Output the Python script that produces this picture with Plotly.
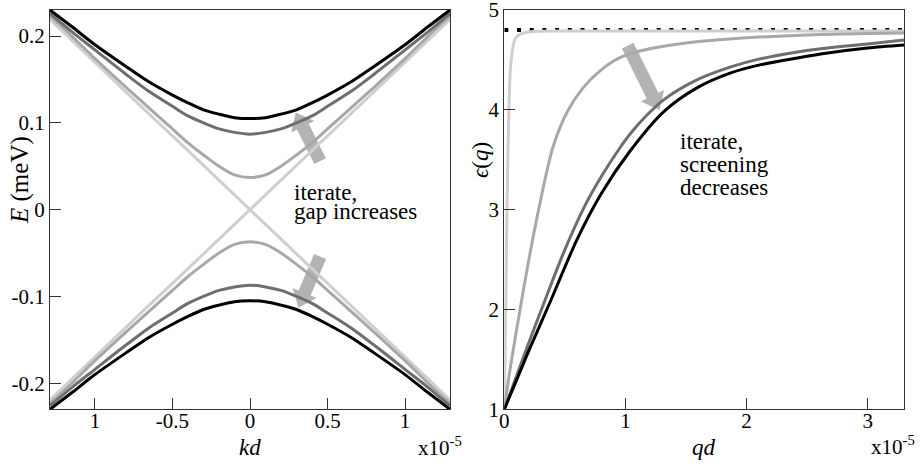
import plotly.graph_objects as go

# ---------------- data ----------------
# Left panel: quasiparticle bands, kd in units of 1e-5, E in meV (upper branch)
kd = [-1.29, -1.15, -1.0, -0.8, -0.65, -0.5, -0.4, -0.3, -0.2, -0.1, 0.0,
      0.1, 0.2, 0.3, 0.4, 0.5, 0.65, 0.8, 1.0, 1.15, 1.29]
E_iter0 = [0.219, 0.195, 0.170, 0.136, 0.110, 0.085, 0.068, 0.051, 0.034, 0.017, 0.0,
           0.017, 0.034, 0.051, 0.068, 0.085, 0.110, 0.136, 0.170, 0.195, 0.219]
E_iter1 = [0.223, 0.200, 0.174, 0.141, 0.117, 0.093, 0.077, 0.063, 0.050, 0.040, 0.037,
           0.040, 0.050, 0.063, 0.077, 0.093, 0.117, 0.141, 0.174, 0.200, 0.223]
E_iter2 = [0.226, 0.205, 0.184, 0.156, 0.136, 0.119, 0.108, 0.100, 0.093, 0.089, 0.087,
           0.089, 0.093, 0.100, 0.108, 0.119, 0.136, 0.156, 0.184, 0.205, 0.226]
E_iter3 = [0.230, 0.211, 0.190, 0.165, 0.147, 0.132, 0.123, 0.115, 0.110, 0.106, 0.105,
           0.106, 0.110, 0.115, 0.123, 0.132, 0.147, 0.165, 0.190, 0.211, 0.230]

# Right panel: dielectric function, qd in units of 1e-5
q_iter0 = [0.0, 0.01, 0.02, 0.03, 0.04, 0.05, 0.061, 0.075, 0.089, 0.12, 0.16, 0.24, 0.6, 3.3]
eps_iter0 = [1.0, 1.9, 2.8, 3.55, 4.1, 4.4, 4.54, 4.65, 4.71, 4.75, 4.77, 4.785, 4.79, 4.79]
q_iter1 = [0.0, 0.05, 0.13, 0.2, 0.28, 0.4, 0.52, 0.65, 0.8, 0.95, 1.12, 1.5, 1.86, 2.5, 3.3]
eps_iter1 = [1.0, 1.42, 2.0, 2.48, 2.98, 3.62, 3.98, 4.22, 4.40, 4.52, 4.59, 4.67, 4.71, 4.75, 4.77]
q_iter2 = [0.0, 0.1, 0.2, 0.31, 0.49, 0.67, 0.8, 0.955, 1.04, 1.18, 1.315, 1.59, 1.87,
           2.11, 2.42, 2.67, 3.0, 3.3]
eps_iter2 = [1.0, 1.33, 1.66, 2.01, 2.57, 3.05, 3.33, 3.62, 3.76, 3.95, 4.10, 4.30, 4.43,
             4.51, 4.58, 4.62, 4.66, 4.70]
q_iter3 = [0.0, 0.1, 0.2, 0.38, 0.6, 0.8, 1.04, 1.315, 1.59, 1.87, 2.11, 2.42, 2.67, 3.0, 3.3]
eps_iter3 = [1.0, 1.29, 1.58, 2.08, 2.70, 3.16, 3.59, 3.98, 4.22, 4.37, 4.45, 4.52, 4.57,
             4.62, 4.65]
eps_inf = 4.8

x_ticks_left = [-1, -0.5, 0, 0.5, 1]
x_ticktext_left = ["1", "-0.5", "0", "0.5", "1"]
y_ticks_left = [-0.2, -0.1, 0, 0.1, 0.2]
y_ticktext_left = ["-0.2", "-0.1", "0", "0.1", "0.2"]
x_ticks_right = [0, 1, 2, 3]
y_ticks_right = [1, 2, 3, 4, 5]

# ---------------- layout geometry ----------------
W, H = 922, 467
LX = (50.0, 450.0)
RX = (504.3, 904.0)
YPX = (10.0, 409.3)       # top, bottom
XR_L, YR_L = (-1.29, 1.29), (-0.23, 0.23)
XR_R, YR_R = (0.0, 3.3), (1.0, 5.0)

FONT = "Liberation Serif"
GREYS = ["#cfcfcf", "#a8a8a8", "#6e6e6e", "#000000"]
LW = 3.0
AXC = "#333333"


def to_px(x, y, xr, yr, xpx):
    px = xpx[0] + (x - xr[0]) / (xr[1] - xr[0]) * (xpx[1] - xpx[0])
    py = YPX[1] - (y - yr[0]) / (yr[1] - yr[0]) * (YPX[1] - YPX[0])
    return px, py


def to_data(px, py, xr, yr, xpx):
    x = xr[0] + (px - xpx[0]) / (xpx[1] - xpx[0]) * (xr[1] - xr[0])
    y = yr[0] + (YPX[1] - py) / (YPX[1] - YPX[0]) * (yr[1] - yr[0])
    return x, y


def arrow_path(tail, tip, xr, yr, xpx, half_shaft=6.5, half_head=13.0, head_len=16.0):
    tx, ty = to_px(*tail, xr, yr, xpx)
    hx, hy = to_px(*tip, xr, yr, xpx)
    dx, dy = hx - tx, hy - ty
    n = (dx * dx + dy * dy) ** 0.5
    ux, uy = dx / n, dy / n
    nx, ny = -uy, ux
    bx, by = hx - ux * head_len, hy - uy * head_len
    pts = [
        (tx + nx * half_shaft, ty + ny * half_shaft),
        (bx + nx * half_shaft, by + ny * half_shaft),
        (bx + nx * half_head, by + ny * half_head),
        (hx, hy),
        (bx - nx * half_head, by - ny * half_head),
        (bx - nx * half_shaft, by - ny * half_shaft),
        (tx - nx * half_shaft, ty - ny * half_shaft),
    ]
    d = [to_data(px, py, xr, yr, xpx) for px, py in pts]
    return "M " + " L ".join(f"{x:.6f},{y:.6f}" for x, y in d) + " Z"


fig = go.Figure()

# ---- left panel: bands, lightest (first iteration) underneath
for E, c in zip([E_iter0, E_iter1, E_iter2, E_iter3], GREYS):
    shape = "linear" if E is E_iter0 else "spline"
    for sign in (1, -1):
        fig.add_trace(go.Scatter(
            x=kd, y=[sign * e for e in E], mode="lines",
            line=dict(color=c, width=LW, shape=shape, smoothing=0.8),
            xaxis="x", yaxis="y", showlegend=False, hoverinfo="skip"))

# ---- right panel: dielectric function
fig.add_trace(go.Scatter(
    x=[XR_R[0], XR_R[1]], y=[eps_inf, eps_inf], mode="lines",
    line=dict(color="black", width=4, dash="4px,8.7px"),
    xaxis="x2", yaxis="y2", showlegend=False, hoverinfo="skip"))
for q, eps, c in zip([q_iter0, q_iter1, q_iter2, q_iter3],
                     [eps_iter0, eps_iter1, eps_iter2, eps_iter3], GREYS):
    fig.add_trace(go.Scatter(
        x=q, y=eps, mode="lines",
        line=dict(color=c, width=LW, shape="spline", smoothing=0.8),
        xaxis="x2", yaxis="y2", showlegend=False, hoverinfo="skip"))

# ---- iteration arrows
ARROW_C = "#b3b3b3"
shapes = [
    dict(type="path", xref="x", yref="y", layer="below", line=dict(width=0),
         fillcolor=ARROW_C,
         path=arrow_path((0.452, 0.0558), (0.295, 0.112), XR_L, YR_L, LX)),
    dict(type="path", xref="x", yref="y", layer="below", line=dict(width=0),
         fillcolor=ARROW_C,
         path=arrow_path((0.452, -0.054), (0.312, -0.113), XR_L, YR_L, LX)),
    dict(type="path", xref="x2", yref="y2", layer="below", line=dict(width=0),
         fillcolor=ARROW_C,
         path=arrow_path((1.019, 4.643), (1.282, 3.998), XR_R, YR_R, RX)),
]

tickfont = dict(family=FONT, size=21, color="black")
axis_common = dict(showline=True, mirror=True, linecolor=AXC, linewidth=1.3,
                   ticks="inside", ticklen=11, tickwidth=1.3, tickcolor=AXC,
                   showgrid=False, zeroline=False, tickfont=tickfont,
                   automargin=False, ticklabeloverflow="allow", fixedrange=True)

dom_y = [1 - YPX[1] / H, 1 - YPX[0] / H]


def txt(text, x, y, size=22, xanchor="left", yanchor="middle", angle=0):
    return dict(text=text, x=x / W, y=1 - y / H, xref="paper", yref="paper",
                showarrow=False, xanchor=xanchor, yanchor=yanchor, textangle=angle,
                font=dict(family=FONT, size=size, color="black"))


annotations = [
    # axis titles
    txt("<i>E</i> (meV)", 20, 180, size=25, xanchor="center", angle=-90),
    txt("<i>kd</i>", 250, 447, size=23, xanchor="center"),
    txt("x10<sup>-5</sup>", 416, 446, size=21),
    txt("<i>ϵ</i>(<i>q</i>)", 481, 160, size=23, xanchor="center", angle=-90),
    txt("<i>qd</i>", 704, 447, size=23, xanchor="center"),
    txt("x10<sup>-5</sup>", 869, 445, size=21),
]
# panel notes
for i, line in enumerate(["iterate,", "gap increases"]):
    annotations.append(txt(line, 292, 192 + 19.5 * i, size=23))
for i, line in enumerate(["iterate,", "screening", "decreases"]):
    annotations.append(txt(line, 678, 141 + 23 * i, size=23))

fig.update_layout(
    template="none",
    width=W, height=H, autosize=False,
    margin=dict(l=0, r=0, t=0, b=0, pad=0),
    paper_bgcolor="white", plot_bgcolor="white",
    xaxis=dict(domain=[LX[0] / W, LX[1] / W], range=list(XR_L), anchor="y",
               tickvals=x_ticks_left, ticktext=x_ticktext_left,
               ticklabelstandoff=-8, **axis_common),
    yaxis=dict(domain=dom_y, range=list(YR_L), anchor="x",
               tickvals=y_ticks_left, ticktext=y_ticktext_left, **axis_common),
    xaxis2=dict(domain=[RX[0] / W, RX[1] / W], range=list(XR_R), anchor="y2",
                tickvals=x_ticks_right, ticklabelstandoff=-8, **axis_common),
    yaxis2=dict(domain=dom_y, range=[YR_R[0], YR_R[1] + 1e-6], anchor="x2",
                tickvals=y_ticks_right, **axis_common),
    shapes=shapes,
    annotations=annotations,
)

fig.write_html("out.html")
